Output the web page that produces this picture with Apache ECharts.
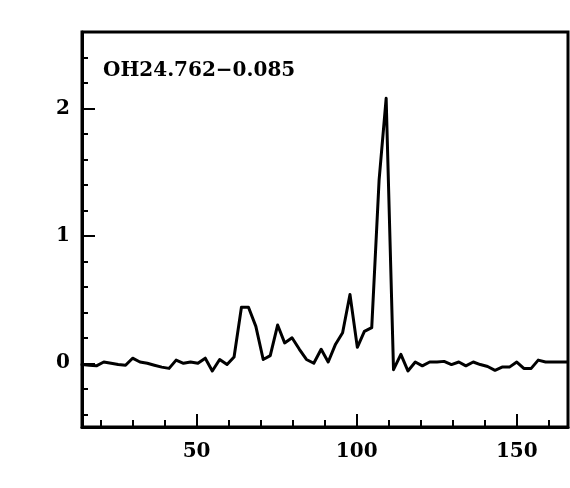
<!DOCTYPE html>
<html>
<head>
<meta charset="utf-8">
<style>html,body{margin:0;padding:0;background:#fff}#c{width:570px;height:488px}</style>
<script src="https://cdn.jsdelivr.net/npm/echarts@6/dist/echarts.min.js"></script>
</head>
<body>
<div id="c"></div>
<script>
const titleText = 'OH24.762\u22120.085';
const velocity = [14.2,16.5,18.7,21.0,23.3,25.5,27.8,30.0,32.3,34.6,36.8,39.1,41.4,43.6,45.9,48.1,50.4,52.7,54.9,57.2,59.5,61.7,64.0,66.2,68.5,70.8,73.0,75.3,77.5,79.8,82.1,84.3,86.6,88.9,91.1,93.4,95.6,97.9,100.2,102.4,104.7,107.0,109.2,111.5,113.8,116.0,118.3,120.5,122.8,125.1,127.3,129.6,131.9,134.1,136.4,138.6,140.9,143.2,145.4,147.7,150.0,152.2,154.5,156.7,159.0,161.3,163.5,165.8];
const flux = [-0.01,-0.015,-0.02,0.01,0.0,-0.01,-0.015,0.04,0.01,0.0,-0.015,-0.03,-0.04,0.025,0.0,0.01,0.0,0.04,-0.06,0.03,-0.01,0.05,0.44,0.44,0.29,0.03,0.06,0.30,0.16,0.20,0.11,0.03,0.0,0.11,0.01,0.15,0.24,0.54,0.125,0.25,0.28,1.44,2.08,-0.05,0.07,-0.06,0.01,-0.02,0.01,0.01,0.015,-0.01,0.01,-0.02,0.01,-0.01,-0.025,-0.055,-0.03,-0.03,0.01,-0.04,-0.04,0.025,0.01,0.01,0.01,0.01];
const xMajor = [50,100,150];
const xMinor = [20,30,40,60,70,80,90,110,120,130,140,160];
const yMajor = [0,1,2];
const yMinor = [-0.4,-0.2,0.2,0.4,0.6,0.8,1.2,1.4,1.6,1.8,2.2,2.4];

const font = 'DejaVu Serif';
const chart = echarts.init(document.getElementById('c'), null, {renderer:'canvas'});
const pts = velocity.map((v,i)=>[v, flux[i]]);
const xBase = {type:'value', min:14.2, max:166, splitLine:{show:false}, gridIndex:0, position:'bottom'};
const yBase = {type:'value', min:-0.5, max:2.6, splitLine:{show:false}, gridIndex:0, position:'left'};
chart.setOption({
  animation:false,
  title:{text:titleText, left:103, top:61, padding:0,
    textStyle:{fontFamily:font, fontWeight:'bold', fontSize:20, color:'#000'}},
  grid:{left:82, right:2, top:32, bottom:61, show:true, borderColor:'#000', borderWidth:3, backgroundColor:'transparent'},
  xAxis:[
    Object.assign({}, xBase, {
      axisLine:{show:true, onZero:false, lineStyle:{color:'#000', width:3}},
      axisTick:{show:true, inside:true, length:13, lineStyle:{color:'#000', width:2}, customValues:xMajor},
      axisLabel:{show:true, margin:15, color:'#000', fontFamily:font, fontWeight:'bold', fontSize:20, customValues:xMajor}
    }),
    Object.assign({}, xBase, {
      axisLine:{show:false, onZero:false},
      axisTick:{show:true, inside:true, length:7, lineStyle:{color:'#000', width:2}, customValues:xMinor},
      axisLabel:{show:false}
    })
  ],
  yAxis:[
    Object.assign({}, yBase, {
      axisLine:{show:true, onZero:false, lineStyle:{color:'#000', width:3}},
      axisTick:{show:true, inside:true, length:13, lineStyle:{color:'#000', width:2}, customValues:yMajor},
      axisLabel:{show:true, margin:12, color:'#000', fontFamily:font, fontWeight:'bold', fontSize:20, customValues:yMajor}
    }),
    Object.assign({}, yBase, {
      axisLine:{show:false, onZero:false},
      axisTick:{show:true, inside:true, length:6, lineStyle:{color:'#000', width:2}, customValues:yMinor},
      axisLabel:{show:false}
    })
  ],
  series:[{
    type:'line', data:pts, xAxisIndex:0, yAxisIndex:0,
    showSymbol:false, symbol:'none', smooth:false,
    lineStyle:{color:'#000', width:3, join:'round', cap:'round'},
    clip:true
  }]
});
</script>
</body>
</html>
